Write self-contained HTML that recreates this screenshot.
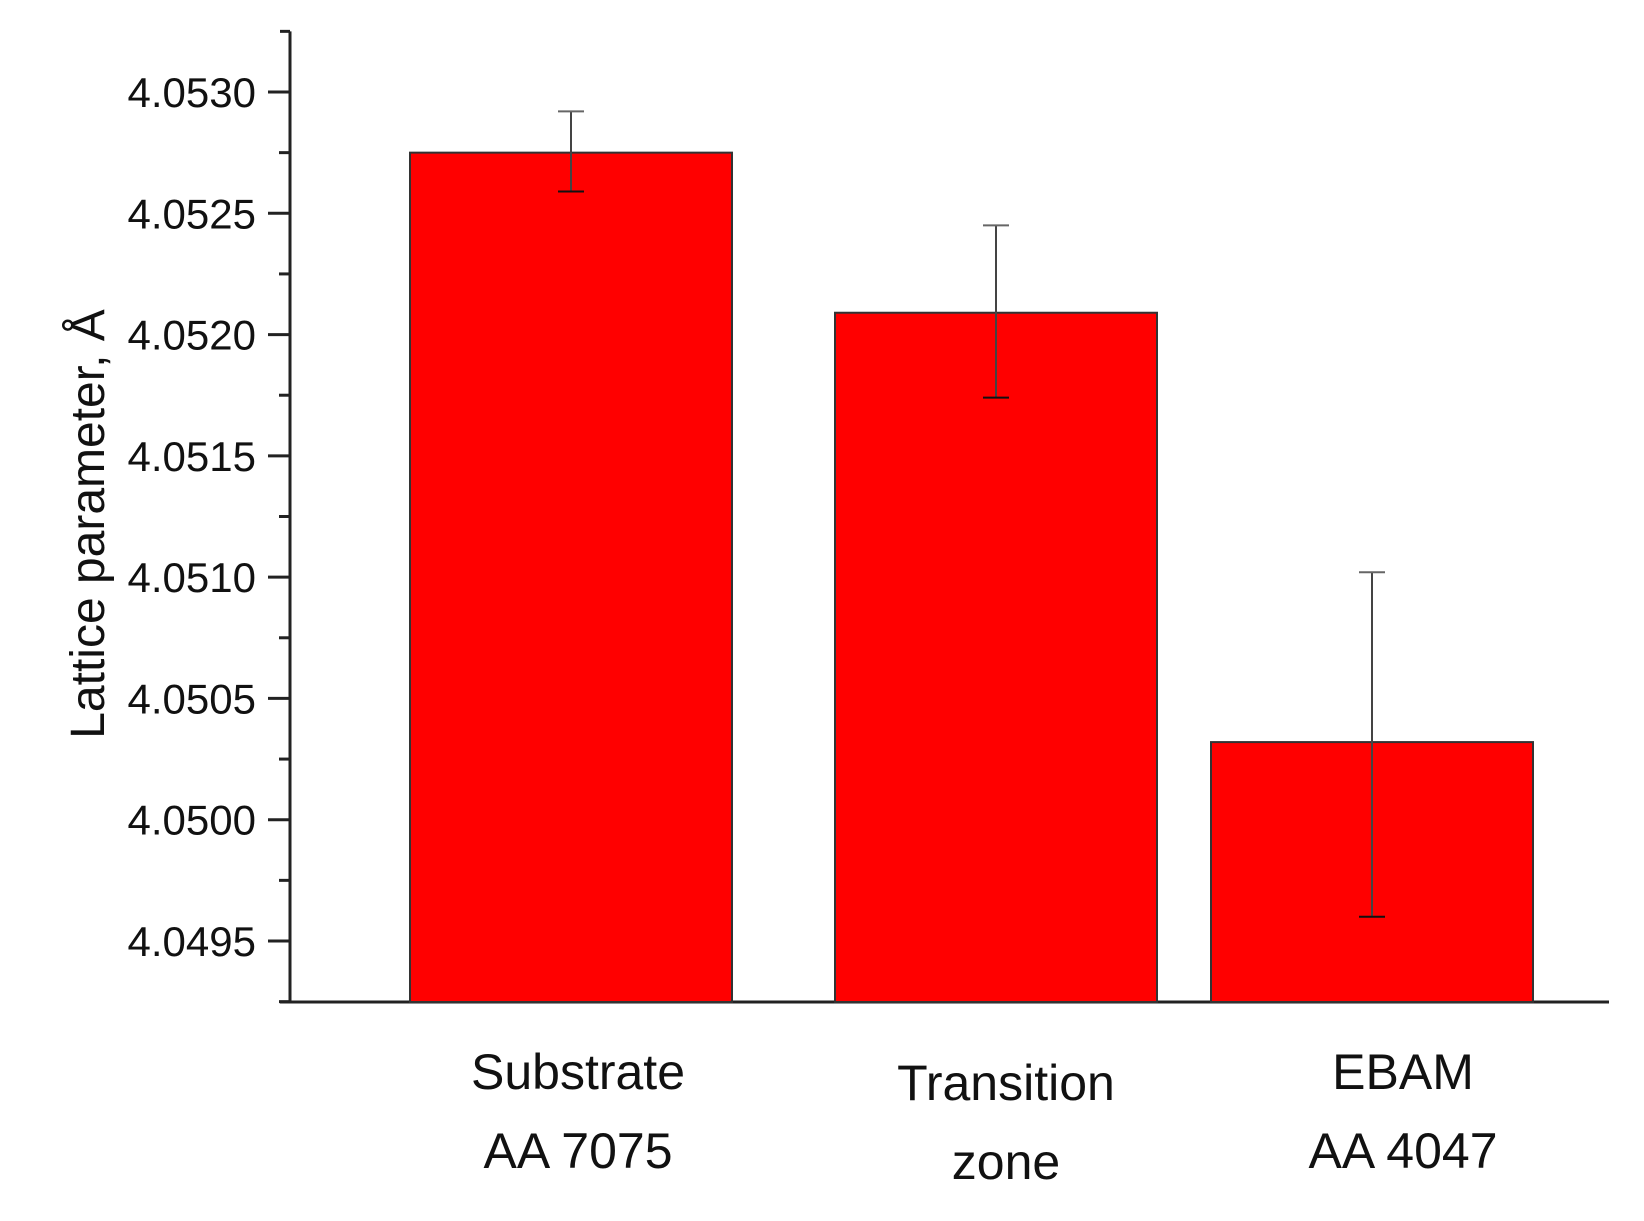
<!DOCTYPE html>
<html><head><meta charset="utf-8"><style>
html,body{margin:0;padding:0;background:#fff}
svg{display:block}
text{font-family:"Liberation Sans",Arial,sans-serif;fill:#111}
</style></head><body>
<svg id="chart" width="1644" height="1221" viewBox="0 0 1644 1221" xmlns="http://www.w3.org/2000/svg">
<g id="axes"></g><g id="bars"></g><g id="errs"></g><g id="labels"></g>
</svg>
<script>
const categories = [["Substrate","AA 7075"],["Transition","zone"],["EBAM","AA 4047"]];
const values = [4.05275, 4.05209, 4.05032];
const errUpper = [4.05292, 4.05245, 4.05102];
const errLower = [4.05259, 4.05174, 4.04960];
const yTicks = ["4.0495","4.0500","4.0505","4.0510","4.0515","4.0520","4.0525","4.0530"];

const NS="http://www.w3.org/2000/svg";
const yMin=4.04925, yMax=4.05325;
const y0px=1002, pxPerUnit=(941-92)/0.0035;
function yScale(v){return 92+(4.0530-v)*pxPerUnit;}
const barCenters=[571,996,1372], barW=322;
const labelCenters=[578,1006,1403];
function mk(tag,attrs,parent){const e=document.createElementNS(NS,tag);for(const k in attrs)e.setAttribute(k,attrs[k]);parent.appendChild(e);return e;}
const axes=document.getElementById('axes'),bars=document.getElementById('bars'),errs=document.getElementById('errs'),labels=document.getElementById('labels');

let a=mk('line',{x1:290,y1:yScale(yMax),x2:290,y2:y0px,stroke:'#222','stroke-width':3},axes);


let b=mk('line',{x1:280,y1:y0px,x2:1609,y2:y0px,stroke:'#222','stroke-width':3},axes);


mk('line',{x1:280,y1:yScale(yMax),x2:290,y2:yScale(yMax),stroke:'#222','stroke-width':3},axes);

yTicks.forEach((t,i)=>{
  const v=parseFloat(t), yy=yScale(v);
  const tk=mk('line',{x1:268,y1:yy,x2:290,y2:yy,stroke:'#222','stroke-width':3},axes);
  
  
  const lb=mk('text',{x:256,y:yy+15,'text-anchor':'end','font-size':42},axes);
  lb.textContent=t;
  
  
  const mv=v+0.00025;
  if(mv<yMax){const my=yScale(mv);
    const m=mk('line',{x1:279,y1:my,x2:290,y2:my,stroke:'#222','stroke-width':3},axes);
    
    }
});
const mv0=yScale(4.0495-0.00025);
mk('line',{x1:279,y1:mv0,x2:290,y2:mv0,stroke:'#222','stroke-width':3},axes);

values.forEach((v,i)=>{
  const top=yScale(v);
  const r=mk('rect',{x:barCenters[i]-barW/2,y:top,width:barW,height:y0px-top,fill:'#ff0000',stroke:'#333','stroke-width':2},bars);
  
  
  const cx=barCenters[i], yu=yScale(errUpper[i]), yl=yScale(errLower[i]);
  const g=mk('g',{stroke:'#111','stroke-width':2},errs);
  
  
  mk('line',{x1:cx,y1:yu,x2:cx,y2:yl,stroke:'#444'},g);
  mk('line',{x1:cx-13,y1:yu,x2:cx+13,y2:yu,stroke:'#666'},g);
  mk('line',{x1:cx-13,y1:yl,x2:cx+13,y2:yl},g);
  categories[i].forEach((s,j)=>{
    const off = i===1 ? 11 : 0;
    const t=mk('text',{x:labelCenters[i],y:1089+off+j*79,'text-anchor':'middle','font-size':50},labels);
    t.textContent=s;
    
    
  });
});
const yt=mk('text',{x:0,y:0,'text-anchor':'middle','font-size':48,transform:'translate(104,524) rotate(-90)'},labels);
yt.textContent='Lattice parameter, Å';


</script>
</body></html>
